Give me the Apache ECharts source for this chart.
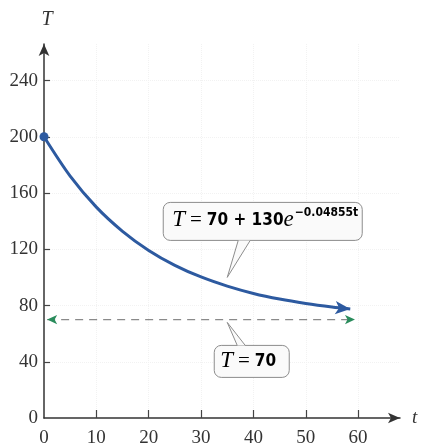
<!DOCTYPE html>
<html>
<head>
<meta charset="utf-8">
<script src="https://cdn.jsdelivr.net/npm/echarts@6/dist/echarts.min.js"></script>
<style>
	html, body { margin: 0; padding: 0; background: #fff; }
	#main { width: 423px; height: 448px; }
</style>
</head>
<body>
<div id="main"></div>
<script>
	// values
	const tValues = [0, 5, 10, 15, 20, 25, 30, 35, 40, 45, 50, 55, 58.5];
	const tempValues = [200, 172, 150, 132.8, 119.2, 108.6, 100.3, 93.8, 88.6, 84.6, 81.5, 79, 77.6];
	const asymptoteT = 70;
	const asymptoteRange = [0.6, 59.4];
	const xTickLabels = [0, 10, 20, 30, 40, 50, 60];
	const yTickLabels = [0, 40, 80, 120, 160, 200, 240];

	const serif = "'Liberation Serif', 'DejaVu Serif', serif";
	const narrow = "'Liberation Sans Narrow', 'DejaVu Sans Condensed', 'Liberation Sans', sans-serif";
	const blue = '#2d5aa0';
	const green = '#2a8c5c';

	var myChart = echarts.init(document.getElementById('main'));

	let curve = tValues.map((t, i) => [t, tempValues[i]]);
	curve[0] = { value: curve[0], symbol: 'circle', symbolSize: 9 };
	let last = curve.length - 1;
	curve[last] = { value: curve[last], symbol: 'arrow', symbolSize: [10, 15], symbolRotate: -95 };

	let dashed = [
		{ value: [asymptoteRange[0], asymptoteT], symbol: 'arrow', symbolSize: [7, 10], symbolRotate: 90 },
		{ value: [asymptoteRange[1], asymptoteT], symbol: 'arrow', symbolSize: [7, 10], symbolRotate: -90 }
	];

	myChart.setOption({
		animation: false,
		grid: { left: 44, right: 23, top: 44, bottom: 30, containLabel: false },
		xAxis: {
			type: 'value',
			min: 0,
			max: 68,
			interval: 10,
			name: 't',
			nameGap: 12,
			nameTextStyle: { fontFamily: serif, fontStyle: 'italic', fontSize: 19, color: '#333', verticalAlign: 'middle' },
			axisLine: { show: true, symbol: ['none', 'arrow'], symbolSize: [8, 12], lineStyle: { color: '#333', width: 1.5 } },
			axisTick: { show: true, inside: true, length: 8, customValues: xTickLabels.slice(1), lineStyle: { color: '#444', width: 1.2 } },
			axisLabel: { customValues: xTickLabels, margin: 11, fontFamily: serif, fontSize: 19, color: '#333' },
			splitLine: { show: true, lineStyle: { color: '#f2f2f2', type: 'dotted' } }
		},
		yAxis: {
			type: 'value',
			min: 0,
			max: 266,
			interval: 40,
			name: 'T',
			nameGap: 24,
			nameTextStyle: { fontFamily: serif, fontStyle: 'italic', fontSize: 20, color: '#333', verticalAlign: 'middle', align: 'center', padding: [0, 0, 0, 6] },
			axisLine: { show: true, symbol: ['none', 'arrow'], symbolSize: [8, 12], lineStyle: { color: '#333', width: 1.5 } },
			axisTick: { show: true, inside: true, length: 6, customValues: yTickLabels.slice(1), lineStyle: { color: '#444', width: 1.2 } },
			axisLabel: { customValues: yTickLabels, margin: 6, fontFamily: serif, fontSize: 19, color: '#333' },
			splitLine: { show: true, lineStyle: { color: '#f2f2f2', type: 'dotted' } }
		},
		series: [
			{
				name: 'asymptote',
				type: 'line',
				symbol: 'none',
				data: dashed,
				itemStyle: { color: green },
				lineStyle: { color: '#8a8a8a', width: 1.2, type: [8, 6] },
				z: 2
			},
			{
				name: 'T',
				type: 'line',
				smooth: 0.3,
				symbol: 'none',
				data: curve,
				itemStyle: { color: blue },
				lineStyle: { color: blue, width: 3 },
				z: 3
			}
		]
	});

	// callouts, anchored in data coordinates
	function callout(tip, box, base, textEl) {
		let p = myChart.convertToPixel({ gridIndex: 0 }, tip);
		let bx = p[0] + box[0], by = p[1] + box[1];
		let edgeY = base[2] === 'bottom' ? by + box[3] : by;
		return [
			{ type: 'rect', shape: { x: bx, y: by, width: box[2], height: box[3], r: 7 }, style: { fill: '#fafafa', stroke: '#8c8c8c', lineWidth: 1 }, z: 10 },
			{ type: 'polygon', shape: { points: [[p[0] + base[0], edgeY], [p[0] + base[1], edgeY], [p[0], p[1]]] }, style: { fill: '#fafafa' }, z: 11 },
			{ type: 'polyline', shape: { points: [[p[0] + base[0], edgeY], [p[0], p[1]], [p[0] + base[1], edgeY]] }, style: { stroke: '#8c8c8c', lineWidth: 1, fill: null }, z: 12 },
			{ type: 'text', z: 13, style: Object.assign({ x: bx + textEl.dx, y: by + textEl.dy, verticalAlign: 'middle' }, textEl.style) }
		];
	}

	let rich = {
		i: { fontFamily: serif, fontStyle: 'italic', fontSize: 23, lineHeight: 36, color: '#1a1a1a' },
		eq: { fontFamily: serif, fontSize: 21, lineHeight: 36, color: '#1a1a1a', padding: [0, 5, 0, 5] },
		n: { fontFamily: narrow, fontWeight: 'bold', fontSize: 17, lineHeight: 36, color: '#111' },
		sup: { fontFamily: narrow, fontWeight: 'bold', fontSize: 12, lineHeight: 13, verticalAlign: 'top', padding: [4, 0, 0, 1], color: '#111' }
	};

	let g = [].concat(
		callout([35, 100], [-64, -75, 199, 38], [11, 23, 'bottom'], {
			dx: 9, dy: 18,
			style: { text: '{i|T}{eq|=}{n|70 + 130}{i|e}{sup|−0.04855t}', rich: rich }
		}),
		callout([35, 68], [-13, 23, 75, 32], [10, 18, 'top'], {
			dx: 6, dy: 16,
			style: { text: '{i|T}{eq|=}{n|70}', rich: rich }
		})
	);

	myChart.setOption({ graphic: g });
</script>
</body>
</html>
